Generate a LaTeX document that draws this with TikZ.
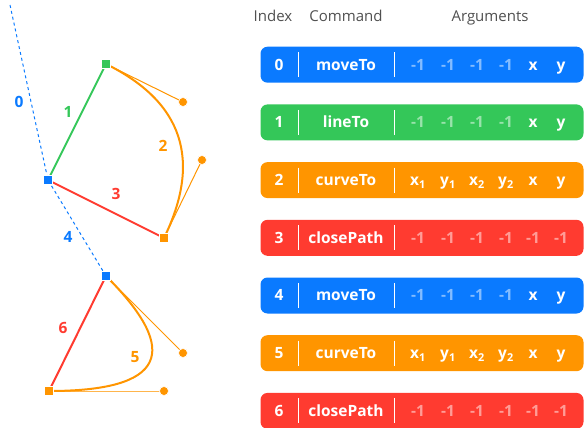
\documentclass[tikz,border=0pt]{standalone}
\usepackage{fontspec}
\setmainfont{Open Sans}
\usetikzlibrary{arrows.meta}
\definecolor{cblue}{HTML}{0A7AFF}
\definecolor{cgreen}{HTML}{34C759}
\definecolor{corange}{HTML}{FF9500}
\definecolor{cred}{HTML}{FF3B30}
\definecolor{chead}{HTML}{505050}
\tikzset{
  rowbox/.style={rounded corners=7pt, minimum width=323pt, minimum height=36pt, inner sep=0pt},
  celltext/.style={text=white, inner sep=0pt, anchor=base, font=\fontsize{15.5}{17}\selectfont\bfseries},
  faded/.style={text opacity=0.5},
  plain/.style={},
  headtext/.style={text=chead, inner sep=0pt, anchor=base, font=\fontsize{15}{17}\selectfont},
  seg/.style={line width=2pt},
  handle/.style={line width=1pt},
  sqmark/.style={draw=white, line width=0.8pt, minimum size=9pt, inner sep=0pt},
  dotmark/.style={circle, draw=white, line width=0.6pt, minimum size=9pt, inner sep=0pt},
  seglabel/.style={font=\fontsize{15.5}{17}\selectfont\bfseries}
}
\def\argsmove{{-1}/faded,{-1}/faded,{-1}/faded,{-1}/faded,x/plain,y/plain}
\def\argscurve{x\textsubscript{1}/plain,y\textsubscript{1}/plain,x\textsubscript{2}/plain,y\textsubscript{2}/plain,x/plain,y/plain}
\def\argsclose{{-1}/faded,{-1}/faded,{-1}/faded,{-1}/faded,{-1}/faded,{-1}/faded}
\begin{document}
\begin{tikzpicture}[x=1pt,y=-1pt]
\useasboundingbox (0,0) rectangle (584,428);

% table header
\node[headtext] (hidx) at (273,21.5) {Index};
\node[headtext] (hcmd) at (346,21.5) {Command};
\node[headtext] (harg) at (490,21.5) {Arguments};

% table rows
\foreach \i/\cmd/\col/\kind in {0/moveTo/cblue/move,1/lineTo/cgreen/move,2/curveTo/corange/curve,
    3/closePath/cred/close,4/moveTo/cblue/move,5/curveTo/corange/curve,6/closePath/cred/close}{
  \pgfmathsetmacro\ry{64.7+57.7*\i}
  \node[rowbox, fill=\col] (row\i) at (422,\ry) {};
  \node[celltext] (idx\i) at (279,\ry+5.4) {\i};
  \node[celltext] (cmd\i) at (346,\ry+5.4) {\cmd};
  \draw[white, line width=0.8pt] (298,\ry-12.5) -- (298,\ry+12.5);
  \draw[white, line width=0.8pt] (394,\ry-12.5) -- (394,\ry+12.5);
  \expandafter\let\expandafter\arglist\csname args\kind\endcsname
  \foreach \a/\s [count=\k] in \arglist{
    \pgfmathsetmacro\ax{{418,448,477,506,533,561}[\k-1]}
    \node[celltext, \s] (arg\i-\k) at (\ax,\ry+5.4) {\a};
  }
}

% path points
\coordinate (top) at (10,5);
\node[sqmark, fill=cblue] (m0) at (48,180) {};
\node[sqmark, fill=cgreen] (l1) at (106,64) {};
\node[dotmark, fill=corange] (c1) at (183,102) {};
\node[dotmark, fill=corange] (c2) at (202,160) {};
\node[sqmark, fill=corange] (e2) at (164,238) {};
\node[sqmark, fill=cblue] (m4) at (106,276) {};
\node[dotmark, fill=corange] (c3) at (183,353) {};
\node[dotmark, fill=corange] (c4) at (164,391) {};
\node[sqmark, fill=corange] (e5) at (49,391) {};

% segments
\draw[cblue, line width=1pt, dash pattern=on 3pt off 3pt] (top) -- (m0.center) -- (m4.center);
\draw[cgreen, seg] (m0.center) -- (l1.center);
\draw[corange, handle] (l1.center) -- (c1.center);
\draw[corange, handle] (c2.center) -- (e2.center);
\draw[corange, seg] (l1.center) .. controls (c1.center) and (c2.center) .. (e2.center);
\draw[cred, seg] (m0.center) -- (e2.center);
\draw[corange, handle] (m4.center) -- (c3.center);
\draw[corange!70, handle] (c4.center) -- (e5.center);
\draw[corange, seg] (m4.center) .. controls (c3.center) and (c4.center) .. (e5.center);
\draw[cred, seg] (e5.center) -- (m4.center);

% markers on top
\foreach \p/\c/\s in {m0/cblue/sqmark,l1/cgreen/sqmark,c1/corange/dotmark,c2/corange/dotmark,e2/corange/sqmark,
    m4/cblue/sqmark,c3/corange/dotmark,c4/corange/dotmark,e5/corange/sqmark}
  \node[\s, fill=\c] at (\p) {};

% segment labels
\node[seglabel, text=cblue] (lab0) at (19,102) {0};
\node[seglabel, text=cgreen] (lab1) at (68,112) {1};
\node[seglabel, text=corange] (lab2) at (163,146) {2};
\node[seglabel, text=cred] (lab3) at (116,194) {3};
\node[seglabel, text=cblue] (lab4) at (68,237) {4};
\node[seglabel, text=corange] (lab5) at (135,357) {5};
\node[seglabel, text=cred] (lab6) at (63,328) {6};
\end{tikzpicture}
\end{document}
